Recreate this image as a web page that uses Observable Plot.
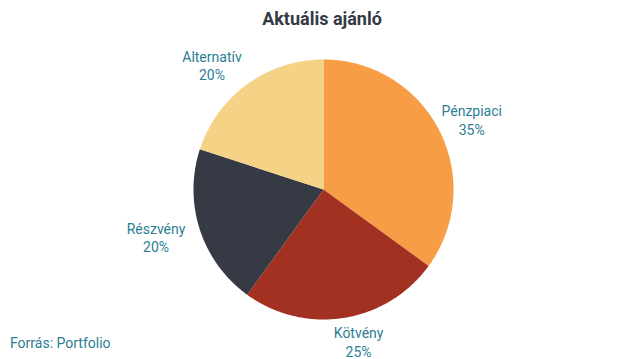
<!DOCTYPE html>
<html>
<head>
<meta charset="utf-8">
<script src="https://cdn.jsdelivr.net/npm/d3@7"></script>
<script src="https://cdn.jsdelivr.net/npm/@observablehq/plot@0.6"></script>
<style>
  html, body { margin: 0; padding: 0; background: #fff; }
  #wrap { position: relative; width: 640px; height: 359px; font-family: Roboto, sans-serif; }
  #title { position: absolute; top: 8px; left: 0; width: 644px; text-align: center; font-weight: bold; font-size: 18px; color: #333a45; }
  #caption { position: absolute; left: 10px; top: 335px; font-size: 14px; color: #2b7d94; }
  svg { display: block; }
</style>
</head>
<body>
<div id="wrap">
  <div id="chart"></div>
  <div id="title">Aktuális ajánló</div>
  <div id="caption">Forrás: Portfolio</div>
</div>
<script>
const categories = ["Pénzpiaci", "Kötvény", "Részvény", "Alternatív"];
const values = [35, 25, 20, 20];
const colors = ["#f79d45", "#a33121", "#363a45", "#f4d386"];

const W = 640, H = 359, cx = 323, cy = 189, R = 130;
const total = d3.sum(values);
const slices = [];
let acc = 0;
categories.forEach((c, i) => {
  const a0 = acc / total * 2 * Math.PI;
  acc += values[i];
  const a1 = acc / total * 2 * Math.PI;
  slices.push({cat: c, value: values[i], a0, a1});
});

const pts = [];
for (const s of slices) {
  pts.push({cat: s.cat, x: 0, y: 0});
  const n = Math.max(2, Math.ceil((s.a1 - s.a0) / 0.01));
  for (let k = 0; k <= n; k++) {
    const a = s.a0 + (s.a1 - s.a0) * k / n;
    pts.push({cat: s.cat, x: Math.sin(a), y: Math.cos(a)});
  }
  pts.push({cat: s.cat, x: 0, y: 0});
}

const LR = 154 / R;
const labels = slices.map(s => {
  const m = (s.a0 + s.a1) / 2;
  return {text: s.cat + "\n" + s.value + "%", x: Math.sin(m) * LR, y: Math.cos(m) * LR, right: Math.sin(m) >= 0};
});

const chart = Plot.plot({
  width: W, height: H,
  margin: 0,
  x: {domain: [-cx / R, (W - cx) / R], axis: null},
  y: {domain: [-(H - cy) / R, cy / R], axis: null},
  color: {domain: categories, range: colors},
  style: {fontFamily: "Roboto, sans-serif"},
  marks: [
    Plot.line(pts, {x: "x", y: "y", z: "cat", fill: "cat", stroke: null, curve: "linear"}),
    Plot.text(labels.filter(d => d.right), {x: "x", y: "y", text: "text", dx: 11, fill: "#2b7d94", fontSize: 14, lineHeight: 1.3}),
    Plot.text(labels.filter(d => !d.right), {x: "x", y: "y", text: "text", dx: -21, fill: "#2b7d94", fontSize: 14, lineHeight: 1.3})
  ]
});
document.getElementById("chart").appendChild(chart);
</script>
</body>
</html>
